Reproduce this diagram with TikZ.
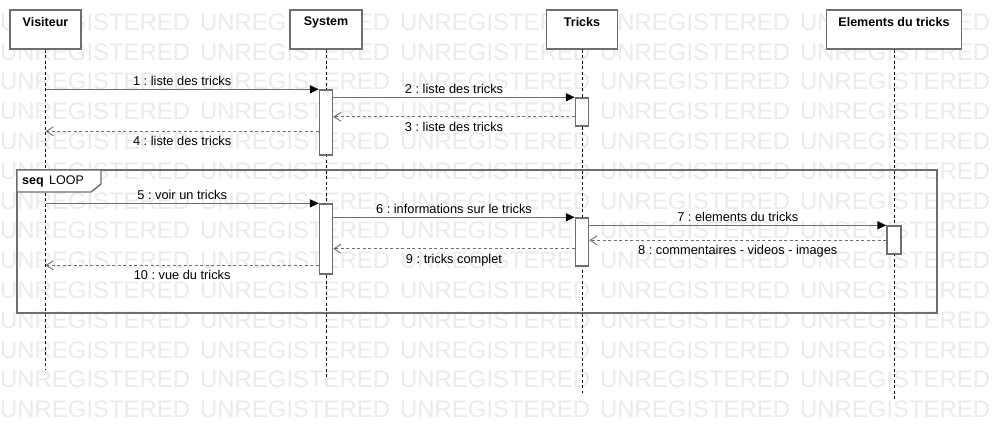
\documentclass[tikz,border=0pt]{standalone}
\usepackage{fontspec}
\setmainfont{Liberation Sans}
\usetikzlibrary{arrows.meta}
\frenchspacing
\definecolor{edge}{HTML}{6E6E6E}
\definecolor{wmark}{HTML}{EBEBEB}
\tikzset{
  actor/.style={draw=edge, line width=1.6pt, fill=white, minimum width=#1, minimum height=39pt, inner sep=0pt},
  title/.style={font=\bfseries\fontsize{12.5}{14}\selectfont, inner sep=0pt},
  life/.style={draw=black, line width=0.8pt, dash pattern=on 3pt off 2.5pt},
  bar/.style={draw=edge, line width=1.4pt, fill=white, minimum width=13pt, minimum height=#1, inner sep=0pt},
  msg/.style={draw=edge, line width=1.4pt, -{Triangle[length=9pt,width=8pt,fill=black,color=black]}},
  reply/.style={draw=edge, line width=1.1pt, dash pattern=on 3pt off 2.5pt, -{Straight Barb[length=7pt,width=9pt,line width=0.9pt]}},
  lab/.style={font=\fontsize{12.8}{14}\selectfont, inner sep=0pt, anchor=base},
  wm/.style={font=\fontsize{23.9}{25}\selectfont, text=wmark, inner sep=0pt, anchor=west},
  frame/.style={draw=edge, line width=1.4pt}
}
\begin{document}
\begin{tikzpicture}[x=1pt,y=-1pt]
\useasboundingbox[fill=white] (0,0) rectangle (1000,442);
% watermark
\foreach \r in {0,...,13}{
  \foreach \c in {0,...,4}{
    \node[wm] (wm-\r-\c) at ({200*\c}, {22+29.8*\r}) {UNREGISTERED};
  }
}
% actors
\node[actor=71pt] (vis) at (45.5,29.5) {};
\node[actor=72pt] (sys) at (326,29.5) {};
\node[actor=71pt] (tri) at (582,29.5) {};
\node[actor=135pt] (ele) at (894,29.5) {};
\node[title] (visT) at (45.5,22.5) {Visiteur};
\node[title] (sysT) at (326,22.5) {System};
\node[title] (triT) at (582,22.5) {Tricks};
\node[title] (eleT) at (894,22.5) {Elements du tricks};
% lifeline ends
\coordinate (visE) at (45.5,370);
\coordinate (sysE) at (326,377);
\coordinate (triE) at (582,393);
\coordinate (eleE) at (894,400);
\draw[life] (vis.south) -- (visE);
\draw[life] (sys.south) -- (sysE);
\draw[life] (tri.south) -- (triE);
\draw[life] (ele.south) -- (eleE);
% loop frame
\coordinate (fA) at (17,170);
\coordinate (fB) at (937,313);
\draw[frame] (fA) rectangle (fB);
\coordinate (pA) at (101,170);
\coordinate (pB) at (101,184);
\coordinate (pC) at (91,192);
\coordinate (pD) at (17,192);
\draw[frame, fill=white] (fA) -- (pA) -- (pB) -- (pC) -- (pD) -- cycle;
\node[font=\fontsize{12.5}{14}\selectfont, inner sep=0pt, anchor=west] (loopT) at (22,181) {\textbf{seq}\hspace{5.5pt}LOOP};
% activation bars
\node[bar=65pt] (sys1) at (326,122.5) {};
\node[bar=28pt] (tri1) at (582,112) {};
\node[bar=70pt] (sys2) at (326,239) {};
\node[bar=48pt] (tri2) at (582,242) {};
\node[bar=28pt, minimum width=14pt] (ele1) at (894,240) {};
% messages
\draw[msg] (vis.south |- sys1.north) -- (sys1.north west)
  node[lab, midway, yshift=4.3pt] (l1) {1 : liste des tricks};
\draw[msg] (sys1.east |- tri1.north) -- (tri1.north west)
  node[lab, midway, yshift=4.3pt] (l2) {2 : liste des tricks};
\coordinate (p3) at ([yshift=-19.5pt]tri1.north west);
\draw[reply] (p3) -- (sys1.east |- p3)
  node[lab, midway, yshift=-14.2pt] (l3) {3 : liste des tricks};
\coordinate (p4) at ([yshift=-42pt]sys1.north west);
\draw[reply] (p4) -- (vis.south |- p4)
  node[lab, midway, yshift=-14.2pt] (l4) {4 : liste des tricks};
\draw[msg] (vis.south |- sys2.north) -- (sys2.north west)
  node[lab, midway, yshift=4.3pt] (l5) {5 : voir un tricks};
\draw[msg] (sys2.east |- tri2.north) -- (tri2.north west)
  node[lab, midway, yshift=4.3pt] (l6) {6 : informations sur le tricks};
\draw[msg] (tri2.east |- ele1.north) -- (ele1.north west)
  node[lab, midway, yshift=4.3pt] (l7) {7 : elements du tricks};
\coordinate (p8) at ([yshift=-15pt]ele1.north west);
\draw[reply] (p8) -- (tri2.east |- p8)
  node[lab, midway, yshift=-14.2pt] (l8) {8 : commentaires - videos - images};
\coordinate (p9) at ([yshift=-31.5pt]tri2.north west);
\draw[reply] (p9) -- (sys2.east |- p9)
  node[lab, midway, yshift=-14.2pt] (l9) {9 : tricks complet};
\coordinate (p10) at ([yshift=-62pt]sys2.north west);
\draw[reply] (p10) -- (vis.south |- p10)
  node[lab, midway, yshift=-14.2pt] (l10) {10 : vue du tricks};
\end{tikzpicture}
\end{document}
